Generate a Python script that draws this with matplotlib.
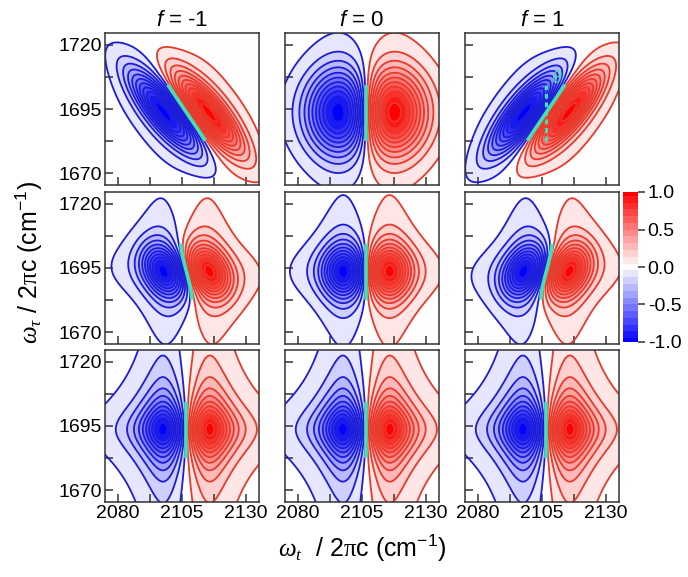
import matplotlib
matplotlib.use('Agg')
import matplotlib.pyplot as plt
import numpy as np
from matplotlib.colors import Normalize

plt.rcParams['font.family'] = ['Liberation Sans', 'DejaVu Sans']
plt.rcParams['mathtext.fontset'] = 'custom'
plt.rcParams['mathtext.rm'] = 'Liberation Sans'
plt.rcParams['mathtext.it'] = 'Liberation Sans:italic'
plt.rcParams['mathtext.sf'] = 'Liberation Serif:italic'
plt.rcParams['mathtext.cal'] = 'Liberation Serif'
plt.rcParams['axes.unicode_minus'] = False

# cross-correlation f between the two modes (columns)
f_values = [-1, 0, 1]
col_titles = [r'$f$ = -1', r'$f$ = 0', r'$f$ = 1']

# lineshape parameters per row (cm-1): inhomogeneous sigma, homogeneous gamma,
# and how much of the frequency correlation survives
row_sigma_t = [9.0, 4.5, 0.5]
row_sigma_tau = [10.5, 5.5, 0.5]
row_gamma_t = [1.5, 4.0, 8.5]
row_gamma_tau = [2.0, 4.5, 10.5]
row_corr = [0.9, 0.6, 0.0]

center_t = 2106.7      # node position along omega_t
center_tau = 1693.7    # peak position along omega_tau
half_split = 8.5       # half of the anharmonic shift between bleach and ESA

x_ticks = [2080, 2092.5, 2105, 2117.5, 2130]
x_ticklabels = ['2080', '', '2105', '', '2130']
y_ticks = [1670, 1682.5, 1695, 1707.5, 1720]
y_ticklabels = ['1670', '', '1695', '', '1720']
cbar_ticks = [-1.0, -0.5, 0.0, 0.5, 1.0]
cbar_ticklabels = ['-1.0', '-0.5', '0.0', '0.5', '1.0']
node_span = (1682.5, 1704.5)

# grid for the spectra, built in the time domain and transformed
N = 512
step = 0.25
off = (np.arange(N) - N // 2) * step
wt = center_t + off
wtau = center_tau + off
k = 2 * np.pi * np.fft.fftfreq(N, d=step)
KX, KY = np.meshgrid(k, k)


def spectrum(sx, sy, gx, gy, rho):
    resp = np.exp(-0.5 * (sx**2 * KX**2 + 2 * rho * sx * sy * KX * KY + sy**2 * KY**2)
                  - gx * np.abs(KX) - gy * np.abs(KY))
    # positive ESA at +half_split, negative bleach at -half_split
    resp = resp * (np.exp(-1j * KX * half_split) - np.exp(1j * KX * half_split))
    s = np.real(np.fft.fftshift(np.fft.ifft2(resp)))
    return s / np.abs(s).max()


keep_x = (wt > 2068) & (wt < 2142)
keep_y = (wtau > 1658) & (wtau < 1732)
X, Y = np.meshgrid(wt[keep_x], wtau[keep_y])

pos_levels = 0.05 + 0.09 * np.arange(11)
line_levels = list(-pos_levels[::-1]) + list(pos_levels)
fill_levels = [-1.04] + line_levels + [1.04]
line_colors = ['#1c1cd8' if l < 0 else '#e83a2a' for l in line_levels]
norm = Normalize(-1, 1)
node_color = '#44e0b4'

fig = plt.figure(figsize=(6.88, 5.77), dpi=100)
W, H = 688.0, 577.0
lefts = [105, 285, 465]
tops = [33, 192, 350]
pw, ph = 154, 152

for r in range(3):
    for c in range(3):
        ax = fig.add_axes([lefts[c] / W, 1 - (tops[r] + ph) / H, pw / W, ph / H])
        S = spectrum(row_sigma_t[r], row_sigma_tau[r], row_gamma_t[r], row_gamma_tau[r],
                     f_values[c] * row_corr[r])
        S = S[np.ix_(keep_y, keep_x)]
        cf = ax.contourf(X, Y, S, levels=fill_levels, cmap='bwr', norm=norm)
        ax.contour(X, Y, S, levels=line_levels, colors=line_colors, linewidths=1.3)

        # node line between the two lobes
        node = np.ma.masked_where((Y < node_span[0]) | (Y > node_span[1]) |
                                  (np.abs(X - center_t) > 15), S)
        ax.contour(X, Y, node, levels=[0], colors=node_color, linewidths=2.6)

        if r == 0 and c == 2:
            ax.plot([center_t, center_t], node_span, color=node_color, lw=2.2,
                    ls=(0, (1.6, 1.2)))
            ax.text(center_t + 4, node_span[1] + 2.5, r'$\theta$', color=node_color,
                    fontsize=13, ha='center', va='center')

        ax.set_xlim(2075, 2135)
        ax.set_ylim(1665.5, 1724.5)
        ax.set_xticks(x_ticks)
        ax.set_yticks(y_ticks)
        ax.set_xticklabels(x_ticklabels if r == 2 else [''] * 5)
        ax.set_yticklabels(y_ticklabels if c == 0 else [''] * 5)
        ax.tick_params(direction='in', length=6, width=1.1, color='#333333',
                       labelsize=14, pad=2)
        for sp in ax.spines.values():
            sp.set_color('#333333')
            sp.set_linewidth(1.1)
        if r == 0:
            ax.set_title(col_titles[c], fontsize=16, pad=5)

cax = fig.add_axes([623 / W, 1 - 342 / H, 15 / W, 150 / H])
cb = fig.colorbar(cf, cax=cax, ticks=cbar_ticks)
cb.ax.set_ylim(-1, 1)
cb.set_ticks(cbar_ticks)
cb.set_ticklabels(cbar_ticklabels)
cb.outline.set_visible(False)
cb.ax.tick_params(length=5, width=1.1, color='#333333', labelsize=14, pad=2)

fig.text(0.043, 0.545, r'$\mathsf{\omega_\tau}$ / 2$\mathcal{\pi}$c (cm$^{-1}$)',
         rotation=90, fontsize=18, ha='center', va='center')
fig.text(0.527, 0.05, r'$\mathsf{\omega_t}$  / 2$\mathcal{\pi}$c (cm$^{-1}$)',
         fontsize=18, ha='center', va='center')

fig.savefig('out.png', dpi=100)
